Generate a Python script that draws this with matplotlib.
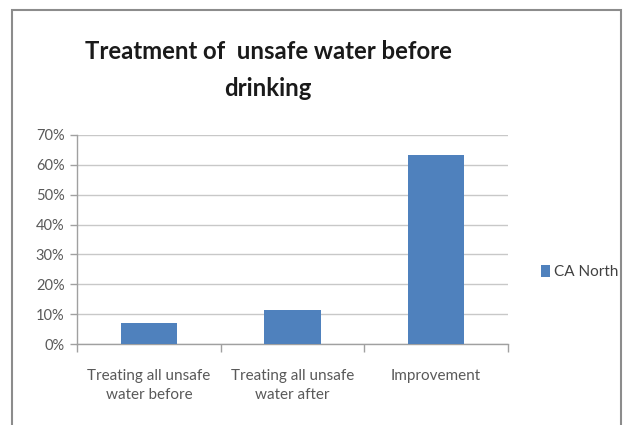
import matplotlib
matplotlib.use("Agg")
import matplotlib.pyplot as plt
from matplotlib.patches import Rectangle
from matplotlib.ticker import FuncFormatter

categories = ["Treating all unsafe\nwater before", "Treating all unsafe\nwater after", "Improvement"]
values = [7.1, 11.4, 63.4]
series_name = "CA North"
title = "Treatment of  unsafe water before\ndrinking"
yticks = [0, 10, 20, 30, 40, 50, 60, 70]

plt.rcParams["font.family"] = ["Lato", "DejaVu Sans"]

W, H = 627, 425
fig = plt.figure(figsize=(W / 100, H / 100), dpi=100)
fig.patch.set_facecolor("white")

# chart frame
fig.add_artist(Rectangle((12 / W, -0.05), (621 - 12) / W, (H - 10) / H + 0.05,
                         transform=fig.transFigure, fill=False,
                         edgecolor="#8c8c8c", linewidth=1.5))

ax = fig.add_axes([77 / W, (H - 344) / H, (508 - 77) / W, (344 - 135) / H])
x = range(len(categories))
bars = ax.bar(x, values, width=0.39, color="#4F81BD", label=series_name, zorder=3)

ax.set_xlim(-0.5, len(categories) - 0.5)
ax.set_ylim(0, 70)
ax.set_yticks(yticks)
ax.yaxis.set_major_formatter(FuncFormatter(lambda v, p: f"{v:.0f}%"))
ax.grid(axis="y", color="#c8c8c8", linewidth=1.0, zorder=0)

ax.set_xticks([i + 0.5 for i in range(-1, len(categories))], minor=False)
ax.set_xticklabels([])
ax.set_xticks(list(x), minor=True)
ax.set_xticklabels(categories, minor=True, fontsize=11, color="#595959", linespacing=1.45)
ax.tick_params(axis="x", which="major", length=6, color="#a0a0a0", width=1)
ax.tick_params(axis="x", which="minor", length=0, pad=18)
ax.tick_params(axis="y", length=5, color="#a0a0a0", width=1, labelsize=10.5, labelcolor="#595959", pad=4)

for s in ["top", "right"]:
    ax.spines[s].set_visible(False)
for s in ["left", "bottom"]:
    ax.spines[s].set_color("#a0a0a0")
    ax.spines[s].set_linewidth(1.0)

fig.text(268 / W, 1 - 70 / H, title, ha="center", va="center", fontsize=17.2,
         fontweight="bold", color="#1a1a1a", linespacing=1.75)

fig.legend(handles=[bars], labels=[series_name], loc="center left",
           bbox_to_anchor=(527 / W, 1 - 272 / H), frameon=False,
           handlelength=0.6, handleheight=0.8, handletextpad=0.3,
           fontsize=11, labelcolor="#404040")

fig.savefig("out.png", dpi=100)
